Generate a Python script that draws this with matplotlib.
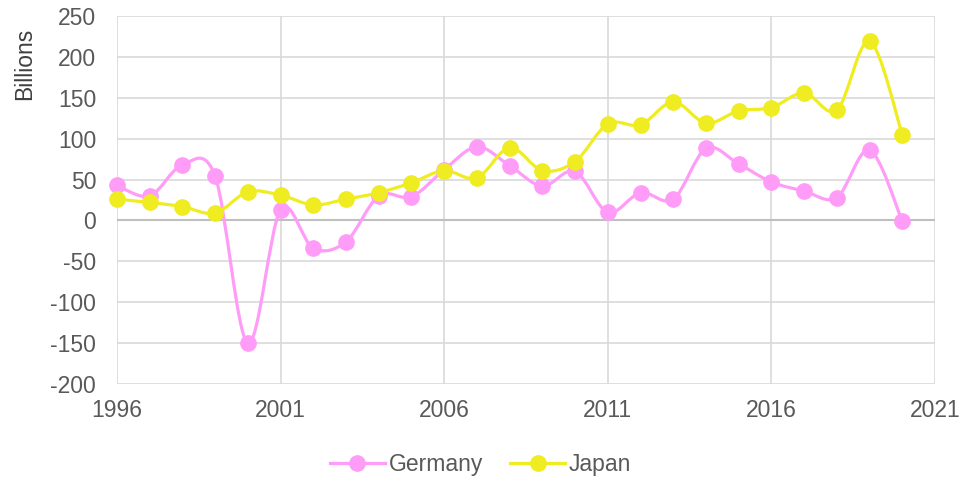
import numpy as np
import matplotlib.pyplot as plt
from matplotlib.path import Path
from matplotlib.patches import PathPatch

plt.rcParams['font.family'] = ['Liberation Sans', 'DejaVu Sans']
plt.rcParams['axes.unicode_minus'] = False

# data (billions)
years = list(range(1996, 2021))
germany = [43, 30, 68, 54, -150, 13, -34, -26, 30, 29, 62, 90, 67, 42, 60,
           10, 34, 26, 88, 69, 47, 36, 28, 86, -1]
japan = [26, 22, 17, 9, 35, 31, 19, 26, 34, 46, 61, 52, 89, 61, 72,
         118, 117, 145, 119, 134, 138, 156, 135, 219, 105]

series = [("Germany", germany, "#ff9cf7"), ("Japan", japan, "#efec22")]


def smooth_path(x, y, k=6.0):
    # bezier like the smoothed lines of a spreadsheet
    p = np.column_stack([x, y]).astype(float)
    verts = [p[0]]
    codes = [Path.MOVETO]
    n = len(p)
    for i in range(n - 1):
        p0 = p[i - 1] if i > 0 else p[i]
        p3 = p[i + 2] if i + 2 < n else p[i + 1]
        c1 = p[i] + (p[i + 1] - p0) / k
        c2 = p[i + 1] - (p3 - p[i]) / k
        verts += [c1, c2, p[i + 1]]
        codes += [Path.CURVE4] * 3
    return Path(verts, codes)


fig = plt.figure(figsize=(9.61, 4.79), dpi=100)
ax = fig.add_axes([0.1217, 0.1983, 0.8513, 0.7683])

for name, vals, col in series:
    ax.add_patch(PathPatch(smooth_path(years, vals), fill=False,
                           edgecolor=col, lw=2.3, zorder=3, clip_on=False))
    ax.plot(years, vals, ls='none', marker='o', ms=11, color=col, zorder=4,
            clip_on=False)
    ax.plot([], [], '-o', color=col, lw=2.3, ms=11, label=name)

ax.set_xlim(1996, 2021)
ax.set_ylim(-200, 250)
ax.set_xticks(range(1996, 2022, 5))
ax.set_yticks(range(-200, 251, 50))
ax.grid(True, color='#d9d9d9', lw=1.2)
ax.axhline(0, color='#bfbfbf', lw=1.5, zorder=2)
ax.set_axisbelow(True)
for s in ax.spines.values():
    s.set_visible(False)
ax.tick_params(length=0, labelsize=16.5, colors='#595959')
ax.tick_params(axis='y', pad=15)
ax.tick_params(axis='x', pad=11)

# axis title sits up near the top, as in the original
fig.text(25 / 961, 1 - 64 / 479, 'Billions', rotation=90, fontsize=16.5,
         color='#404040', ha='center', va='center')

ax.legend(loc='center', bbox_to_anchor=(0.5, 1 - 465 / 479),
          bbox_transform=fig.transFigure, ncol=2,
          frameon=False, fontsize=16.5, labelcolor='#595959',
          handlelength=2.4, columnspacing=1.2, handletextpad=0.15)

fig.savefig('out.png', dpi=100)
